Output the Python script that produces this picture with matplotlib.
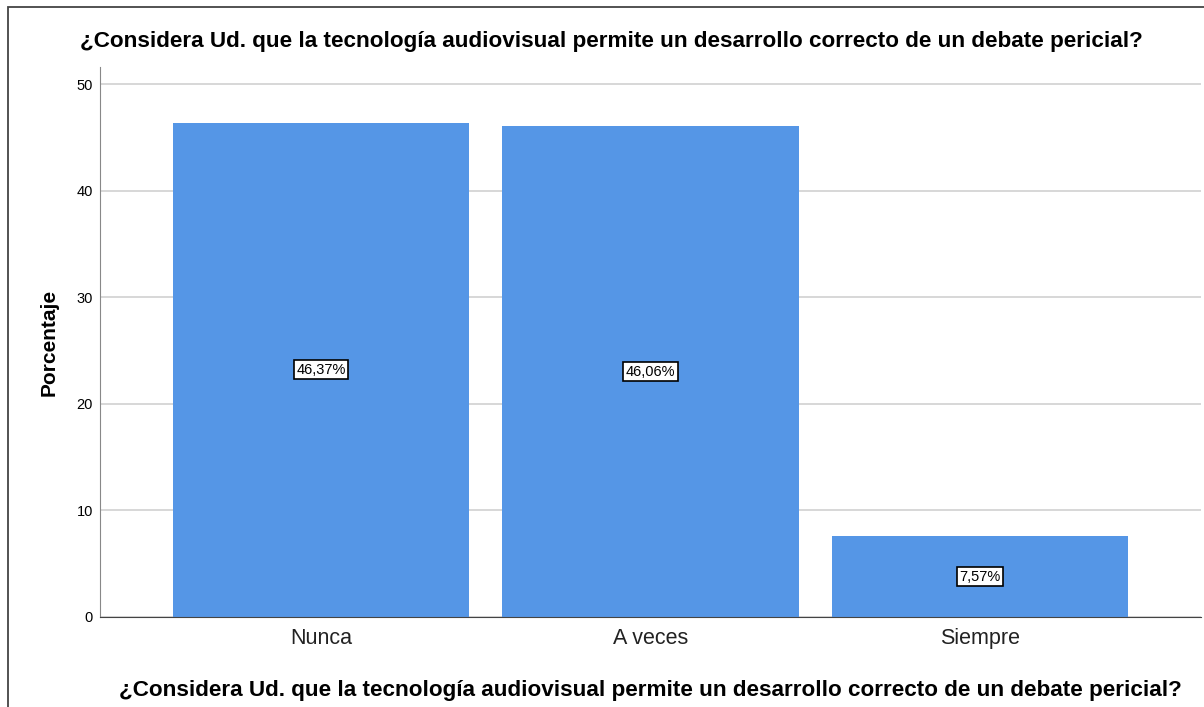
import matplotlib.pyplot as plt
from matplotlib.patches import Rectangle

categories = ['Nunca', 'A veces', 'Siempre']
percentages = [46.37, 46.06, 7.57]
bar_labels = ['46,37%', '46,06%', '7,57%']
yticks = [0, 10, 20, 30, 40, 50]
question = '¿Considera Ud. que la tecnología audiovisual permite un desarrollo correcto de un debate pericial?'

BAR_COLOR = '#5596e6'

plt.rcParams['font.family'] = ['Liberation Sans', 'DejaVu Sans']

fig = plt.figure(figsize=(12.04, 7.07), dpi=100)
W, H = 1204, 707
ax = fig.add_axes([100 / W, 1 - 617 / H, 1101 / W, 550 / H])

x = list(range(len(categories)))
ax.bar(x, percentages, width=0.9, color=BAR_COLOR, zorder=2)

# value boxes in the middle of each bar
for xi, v, lab in zip(x, percentages, bar_labels):
  ax.text(xi, v / 2, lab, ha='center', va='center', fontsize=10.5, zorder=3,
    bbox=dict(boxstyle='square,pad=0.18', fc='white', ec='black', lw=1.2))

ax.set_xlim(-0.67, 2.67)
ax.set_ylim(0, 51.6)
ax.set_yticks(yticks)
ax.yaxis.grid(True, color='#d4d4d4', lw=1.3, zorder=0)
ax.set_axisbelow(True)
ax.set_xticks(x)
ax.set_xticklabels(categories, fontsize=15.5, color='#222222')
ax.tick_params(axis='x', length=0, pad=8)
ax.tick_params(axis='y', length=0, pad=5, labelsize=10.5)

for s in ['top', 'right']:
  ax.spines[s].set_visible(False)
ax.spines['left'].set_color('#888888')
ax.spines['bottom'].set_color('#444444')

ax.set_ylabel('Porcentaje', fontsize=15, fontweight='bold', labelpad=13)
ax.set_xlabel(question, fontsize=16.2, fontweight='bold', labelpad=22)
fig.text(611 / W, 1 - 41 / H, question, ha='center', va='center',
  fontsize=16.2, fontweight='bold')

# outer frame of the chart area
fig.patches.append(Rectangle((8 / W, -0.1), 1.2, 1 - 7 / H + 0.1,
  transform=fig.transFigure, fill=False, ec='#444444', lw=1.3))

fig.savefig('out.png', dpi=100)
